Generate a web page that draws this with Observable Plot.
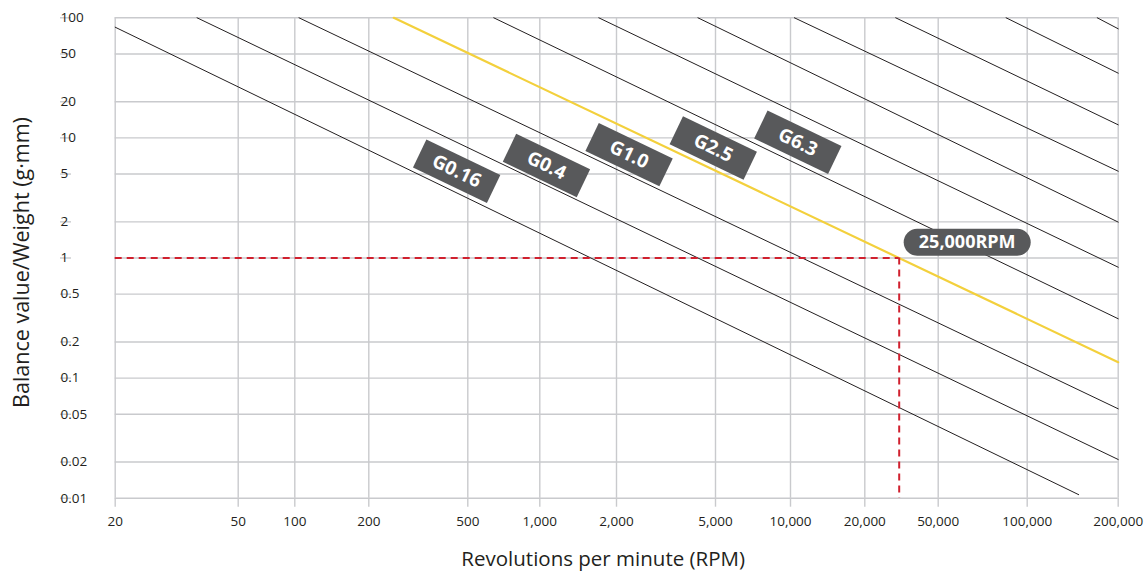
<!DOCTYPE html>
<html><head><meta charset="utf-8">
<script src="https://cdn.jsdelivr.net/npm/d3@7"></script>
<script src="https://cdn.jsdelivr.net/npm/@observablehq/plot@0.6"></script>
<style>
html,body{margin:0;padding:0;background:#fff;}
#chart svg{display:block;}
</style></head><body><div id="chart"></div>
<script>
// ---- data ----
const xTicks = [20, 50, 100, 200, 500, 1000, 2000, 5000, 10000, 20000, 50000, 100000, 200000];
const xTickLabels = ["20", "50", "100", "200", "500", "1,000", "2,000", "5,000", "10,000", "20,000", "50,000", "100,000", "200,000"];
const yTicks = [100, 50, 20, 10, 5, 2, 1, 0.5, 0.2, 0.1, 0.05, 0.02, 0.01];
const yTickLabels = ["100", "50", "20", "10", "5", "2", "1", "0.5", "0.2", "0.1", "0.05", "0.02", "0.01"];

// balance-grade lines: each is a straight segment from start to end (rpm, g·mm)
const gradeNames = ["G0.16", "G0.4", "G1.0", "G2.5", "G6.3", "G16", "G40", "G100", "G250", "G630", "G1600"];
const startRpm   = [20, 36.8, 104, 252, 642, 1704, 4250, 10370, 24440, 84850, 170500];
const startValue = [83.5, 100, 100, 100, 100, 100, 100, 100, 100, 100, 100];
const endRpm     = [148000, 200000, 200000, 200000, 200000, 200000, 200000, 200000, 200000, 200000, 200000];
const endValue   = [0.0107, 0.021, 0.0555, 0.1356, 0.312, 0.838, 1.99, 5.28, 12.85, 34.6, 81];
const highlightGrade = "G2.5";

// grade tags
const tagNames = ["G0.16", "G0.4", "G1.0", "G2.5", "G6.3"];
const tagRpm   = [451, 1062, 2247, 4898, 10705];
const tagValue = [5.28, 5.89, 7.25, 8.24, 9.19];

// example operating point
const markerRpm = [25000];
const markerValue = [1];
const markerText = ["25,000RPM"];
const markerTagRpm = [62670];
const markerTagValue = [1.354];

const xTitle = "Revolutions per minute (RPM)";
const yTitle = "Balance value/Weight (g·mm)";

// ---- build tables ----
const lineRows = gradeNames.flatMap((g, i) => [
  {grade: g, rpm: startRpm[i], value: startValue[i]},
  {grade: g, rpm: endRpm[i], value: endValue[i]}
]);
const tags = tagNames.map((t, i) => ({text: t, rpm: tagRpm[i], value: tagValue[i]}));
const marker = markerRpm.map((r, i) => ({rpm: r, value: markerValue[i], text: markerText[i], tagRpm: markerTagRpm[i], tagValue: markerTagValue[i]}));

// ---- styles ----
const gridColor = "#c9cacd";
const ink = "#231f20";
const tagFill = "#58595b";
const yellow = "#f3d03c";
const red = "#d0202e";
const angle = 25.6;

function rotatedRect(w, h, deg) {
  const a = deg * Math.PI / 180, c = Math.cos(a), s = Math.sin(a);
  return {draw(ctx) {
    const pts = [[-w/2, -h/2], [w/2, -h/2], [w/2, h/2], [-w/2, h/2]].map(([x, y]) => [x * c - y * s, x * s + y * c]);
    ctx.moveTo(pts[0][0], pts[0][1]);
    for (let k = 1; k < 4; k++) ctx.lineTo(pts[k][0], pts[k][1]);
    ctx.closePath();
  }};
}
function pill(w, h) {
  const r = h / 2;
  return {draw(ctx) {
    ctx.moveTo(-w/2 + r, -r);
    ctx.lineTo(w/2 - r, -r);
    ctx.arc(w/2 - r, 0, r, -Math.PI/2, Math.PI/2);
    ctx.lineTo(-w/2 + r, r);
    ctx.arc(-w/2 + r, 0, r, Math.PI/2, 3 * Math.PI/2);
    ctx.closePath();
  }};
}

const W = 1146, H = 574;
const chart = Plot.plot({
  width: W, height: H,
  marginLeft: 114.7, marginRight: 28.3, marginTop: 17.3, marginBottom: 76.3,
  style: {fontFamily: "'Open Sans', sans-serif", fontSize: "13.5px", color: ink, background: "#fff"},
  x: {type: "log", domain: [20, 50, 100, 200, 500, 1000, 2000, 5000, 10000, 20000, 25000, 50000, 100000, 200000],
      range: [114.7, 237.7, 294.3, 368.3, 467.3, 539.3, 616, 715, 790, 864.3, 898.7, 937.7, 1026.7, 1117.7]},
  y: {type: "log", domain: [0.01, 100]},
  marks: [
    Plot.gridX(xTicks, {stroke: gridColor, strokeOpacity: 1, strokeWidth: 1.4}),
    Plot.gridY(yTicks, {stroke: gridColor, strokeOpacity: 1, strokeWidth: 1.4}),
    Plot.axisX({ticks: xTicks, text: d => xTickLabels[xTicks.indexOf(d)], tickSize: 9, tickPadding: 9, stroke: gridColor, strokeWidth: 1.4, fill: ink, label: null}),
    Plot.axisY({ticks: yTicks, text: d => yTickLabels[yTicks.indexOf(d)], tickSize: 11, tickPadding: 0, textAnchor: "start", dx: -43.7, stroke: gridColor, strokeWidth: 1.4, fill: ink, label: null}),
    Plot.line(lineRows.filter(d => d.grade !== highlightGrade), {x: "rpm", y: "value", z: "grade", stroke: ink, strokeWidth: 1}),
    Plot.line(lineRows.filter(d => d.grade === highlightGrade), {x: "rpm", y: "value", z: "grade", stroke: yellow, strokeWidth: 2.2}),
    Plot.ruleY(marker, {y: "value", x1: xTicks[0], x2: "rpm", stroke: red, strokeWidth: 2, strokeDasharray: "7,5"}),
    Plot.ruleX(marker, {x: "rpm", y1: "value", y2: yTicks[yTicks.length - 1], stroke: red, strokeWidth: 2, strokeDasharray: "7,5"}),
    Plot.dot(tags, {x: "rpm", y: "value", symbol: rotatedRect(82, 31, angle), fill: tagFill, stroke: "none"}),
    Plot.text(tags, {x: "rpm", y: "value", text: "text", rotate: angle, fill: "#fff", fontWeight: "bold", fontSize: 19}),
    Plot.dot(marker, {x: "tagRpm", y: "tagValue", symbol: pill(127, 27), fill: tagFill, stroke: "none"}),
    Plot.text(marker, {x: "tagRpm", y: "tagValue", text: "text", fill: "#fff", fontWeight: "bold", fontSize: 18}),
    Plot.text([xTitle], {frameAnchor: "bottom", textAnchor: "middle", lineAnchor: "middle", dx: -13.5, dy: 61, fontSize: 20.5, fill: ink}),
    Plot.text([yTitle], {frameAnchor: "left", textAnchor: "middle", lineAnchor: "middle", rotate: -90, dx: -92.7, dy: 4.5, fontSize: 21.5, fill: ink})
  ]
});
document.getElementById("chart").appendChild(chart);
</script>
</body></html>
